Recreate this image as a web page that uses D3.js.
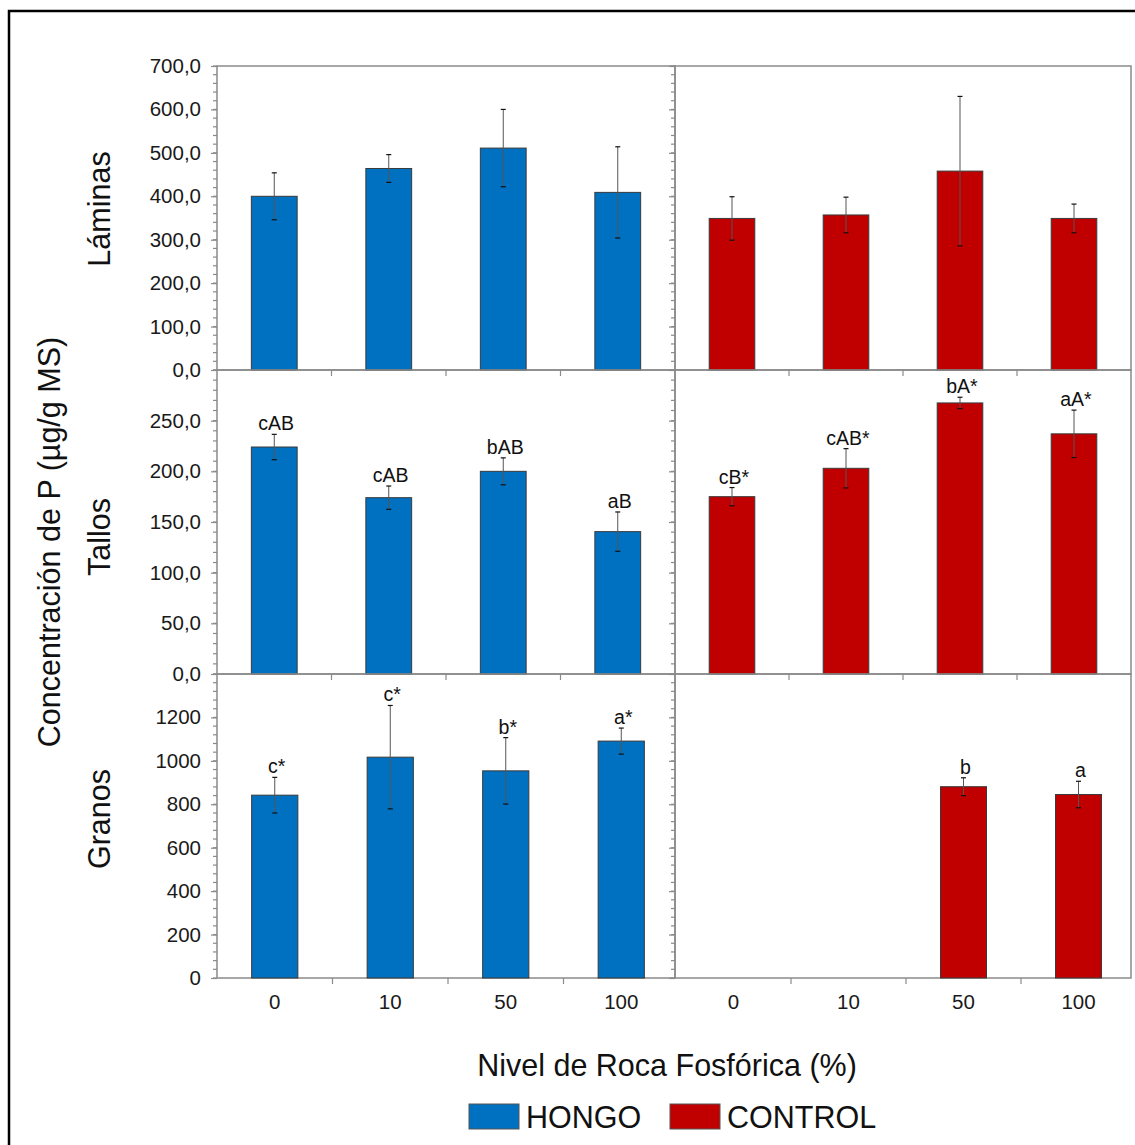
<!DOCTYPE html>
<html>
<head>
<meta charset="utf-8">
<script src="https://cdn.jsdelivr.net/npm/d3@7"></script>
<style>
  html, body { margin: 0; padding: 0; background: #fff; }
  svg { display: block; font-family: "Liberation Sans", Arial, sans-serif; }
</style>
</head>
<body>
<svg id="chart" width="1135" height="1145"></svg>
<script>
// Fósforo en láminas, tallos y granos según nivel de roca fosfórica
const categories = ["0", "10", "50", "100"];

const laminasHongo      = [400, 464, 511, 409];
const laminasHongoErr   = [54, 32, 89, 105];
const laminasControl    = [349, 357, 458, 349];
const laminasControlErr = [50, 41, 172, 33];

const tallosHongo       = [224, 174, 200, 140.5];
const tallosHongoErr    = [12.5, 11.5, 13.3, 19.4];
const tallosHongoLbl    = ["cAB", "cAB", "bAB", "aB"];
const tallosControl     = [175, 203, 267.5, 237];
const tallosControlErr  = [9, 19.4, 5.6, 23.4];
const tallosControlLbl  = ["cB*", "cAB*", "bA*", "aA*"];

const granosHongo       = [842, 1017, 954, 1091];
const granosHongoErr    = [82, 238, 153, 60];
const granosHongoLbl    = ["c*", "c*", "b*", "a*"];
const granosControl     = [null, null, 881, 845];
const granosControlErr  = [null, null, 41, 61];
const granosControlLbl  = [null, null, "b", "a"];

const rowTitles = ["Láminas", "Tallos", "Granos"];
const seriesNames = ["HONGO", "CONTROL"];
const COLORS = { HONGO: "#0070C0", CONTROL: "#C00000" };

const TICK_FS = 20.5, LBL_FS = 19.5, TITLE_FS = 30.5;

const svg = d3.select("#chart");

// outer frame
svg.append("rect")
  .attr("x", 9).attr("y", 11).attr("width", 1140).attr("height", 1150)
  .attr("fill", "none").attr("stroke", "#000").attr("stroke-width", 2.5);

const comma = d3.formatLocale({ decimal: ",", thousands: ".", grouping: [3], currency: ["", ""] });
const fmt1 = comma.format(".1f");
const fmt0 = d3.format("d");

const rows = [
  { title: rowTitles[0], titleY: 209, y0: 66, y1: 370, max: 700, ticks: d3.range(0, 701, 100), minor: 20, fmt: fmt1,
    hongo: laminasHongo, hErr: laminasHongoErr, hLbl: null,
    control: laminasControl, cErr: laminasControlErr, cLbl: null,
    xl: [217, 675], xr: [675, 1131], xLabels: false },
  { title: rowTitles[1], titleY: 537, y0: 370, y1: 674, max: 300, ticks: d3.range(0, 251, 50), minor: 10, fmt: fmt1,
    hongo: tallosHongo, hErr: tallosHongoErr, hLbl: tallosHongoLbl,
    control: tallosControl, cErr: tallosControlErr, cLbl: tallosControlLbl,
    xl: [217, 675], xr: [675, 1131], xLabels: false },
  { title: rowTitles[2], titleY: 819, y0: 674, y1: 978, max: 1400, ticks: d3.range(0, 1201, 200), minor: 40, fmt: fmt0,
    hongo: granosHongo, hErr: granosHongoErr, hLbl: granosHongoLbl,
    control: granosControl, cErr: granosControlErr, cLbl: granosControlLbl,
    xl: [217, 679], xr: [676, 1136], xLabels: true }
];

const PANEL_L = 217, PANEL_M = 675, PANEL_R = 1131;
const GRID = "#8a8a8a";

rows.forEach(row => {
  const y = d3.scaleLinear().domain([0, row.max]).range([row.y1, row.y0]);
  const g = svg.append("g");

  // panel boxes
  [[PANEL_L, PANEL_M], [PANEL_M, PANEL_R]].forEach(([a, b]) => {
    g.append("rect").attr("x", a).attr("y", row.y0).attr("width", b - a).attr("height", row.y1 - row.y0)
      .attr("fill", "none").attr("stroke", GRID).attr("stroke-width", 1.5);
  });

  // y axes (left of each panel), minor + major ticks
  [PANEL_L, PANEL_M].forEach((ax, i) => {
    const minorVals = d3.range(0, row.max + 0.001, row.minor);
    g.append("g").selectAll("line").data(minorVals).join("line")
      .attr("x1", ax - 4).attr("x2", ax).attr("y1", d => y(d)).attr("y2", d => y(d))
      .attr("stroke", GRID).attr("stroke-width", 1.2);
    const axis = d3.axisLeft(y).tickValues(row.ticks).tickSize(6).tickPadding(10)
      .tickFormat(i === 0 ? row.fmt : () => "");
    const ag = g.append("g").attr("transform", `translate(${ax},0)`).call(axis);
    ag.select(".domain").remove();
    ag.selectAll(".tick line").attr("stroke", GRID).attr("stroke-width", 1.2);
    ag.selectAll(".tick text").attr("font-size", TICK_FS).attr("fill", "#1a1a1a")
      .attr("font-family", "Liberation Sans, Arial, sans-serif");
  });

  // bars per panel
  const panels = [
    { range: row.xl, vals: row.hongo, err: row.hErr, lbl: row.hLbl, color: COLORS.HONGO },
    { range: row.xr, vals: row.control, err: row.cErr, lbl: row.cLbl, color: COLORS.CONTROL }
  ];
  panels.forEach(p => {
    const x = d3.scaleBand().domain(categories).range(p.range).paddingInner(0).paddingOuter(0);
    // x ticks at band boundaries
    const bounds = categories.slice(1).map(c => x(c));
    g.append("g").selectAll("line").data(bounds).join("line")
      .attr("x1", d => d).attr("x2", d => d).attr("y1", row.y1).attr("y2", row.y1 + 6)
      .attr("stroke", GRID).attr("stroke-width", 1.2);
    if (row.xLabels) {
      g.append("g").selectAll("text").data(categories).join("text")
        .attr("x", d => x(d) + x.bandwidth() / 2).attr("y", row.y1 + 31)
        .attr("text-anchor", "middle").attr("font-size", TICK_FS).attr("fill", "#1a1a1a")
        .text(d => d);
    }
    const data = categories.map((c, i) => ({ c, v: p.vals[i], e: p.err[i], l: p.lbl ? p.lbl[i] : null }))
      .filter(d => d.v != null);
    const bw = x.bandwidth() * 0.4;
    const cx = d => x(d.c) + x.bandwidth() / 2;
    g.append("g").selectAll("rect").data(data).join("rect")
      .attr("x", d => cx(d) - bw / 2).attr("y", d => y(d.v))
      .attr("width", bw).attr("height", d => y(0) - y(d.v))
      .attr("fill", p.color).attr("stroke", "#3a3a3a").attr("stroke-width", 1);
    // error bars
    const eg = g.append("g");
    eg.selectAll("line.stem").data(data).join("line").attr("class", "stem")
      .attr("x1", cx).attr("x2", cx).attr("y1", d => y(d.v + d.e)).attr("y2", d => y(d.v - d.e))
      .attr("stroke", "#555").attr("stroke-width", 1);
    ["top", "bot"].forEach(k => {
      eg.selectAll("line." + k).data(data).join("line").attr("class", k)
        .attr("x1", d => cx(d) - 2.5).attr("x2", d => cx(d) + 2.5)
        .attr("y1", d => y(k === "top" ? d.v + d.e : d.v - d.e))
        .attr("y2", d => y(k === "top" ? d.v + d.e : d.v - d.e))
        .attr("stroke", "#111").attr("stroke-width", 1.2);
    });
    // letters above error bars
    g.append("g").selectAll("text").data(data.filter(d => d.l)).join("text")
      .attr("x", d => cx(d) + 2).attr("y", d => y(d.v + d.e) - 4)
      .attr("text-anchor", "middle").attr("font-size", LBL_FS).attr("fill", "#111")
      .text(d => d.l);
  });

  // row title
  svg.append("text")
    .attr("transform", `translate(110,${row.titleY}) rotate(-90)`)
    .attr("text-anchor", "middle").attr("font-size", TITLE_FS).attr("fill", "#111")
    .text(row.title);
});

// overall y title
svg.append("text")
  .attr("transform", "translate(60,542) rotate(-90)")
  .attr("text-anchor", "middle").attr("font-size", TITLE_FS).attr("fill", "#111")
  .text("Concentración de P (µg/g MS)");

// x title
svg.append("text")
  .attr("x", 667).attr("y", 1076)
  .attr("text-anchor", "middle").attr("font-size", TITLE_FS).attr("fill", "#111")
  .text("Nivel de Roca Fosfórica (%)");

// legend
const legend = svg.append("g");
const legendItems = [
  { name: seriesNames[0], x: 469 },
  { name: seriesNames[1], x: 670 }
];
legendItems.forEach(it => {
  legend.append("rect").attr("x", it.x).attr("y", 1104).attr("width", 50).attr("height", 25)
    .attr("fill", COLORS[it.name]).attr("stroke", "#555").attr("stroke-width", 1);
  legend.append("text").attr("x", it.x + 57).attr("y", 1128)
    .attr("font-size", TITLE_FS).attr("fill", "#111").text(it.name);
});
</script>
</body>
</html>
